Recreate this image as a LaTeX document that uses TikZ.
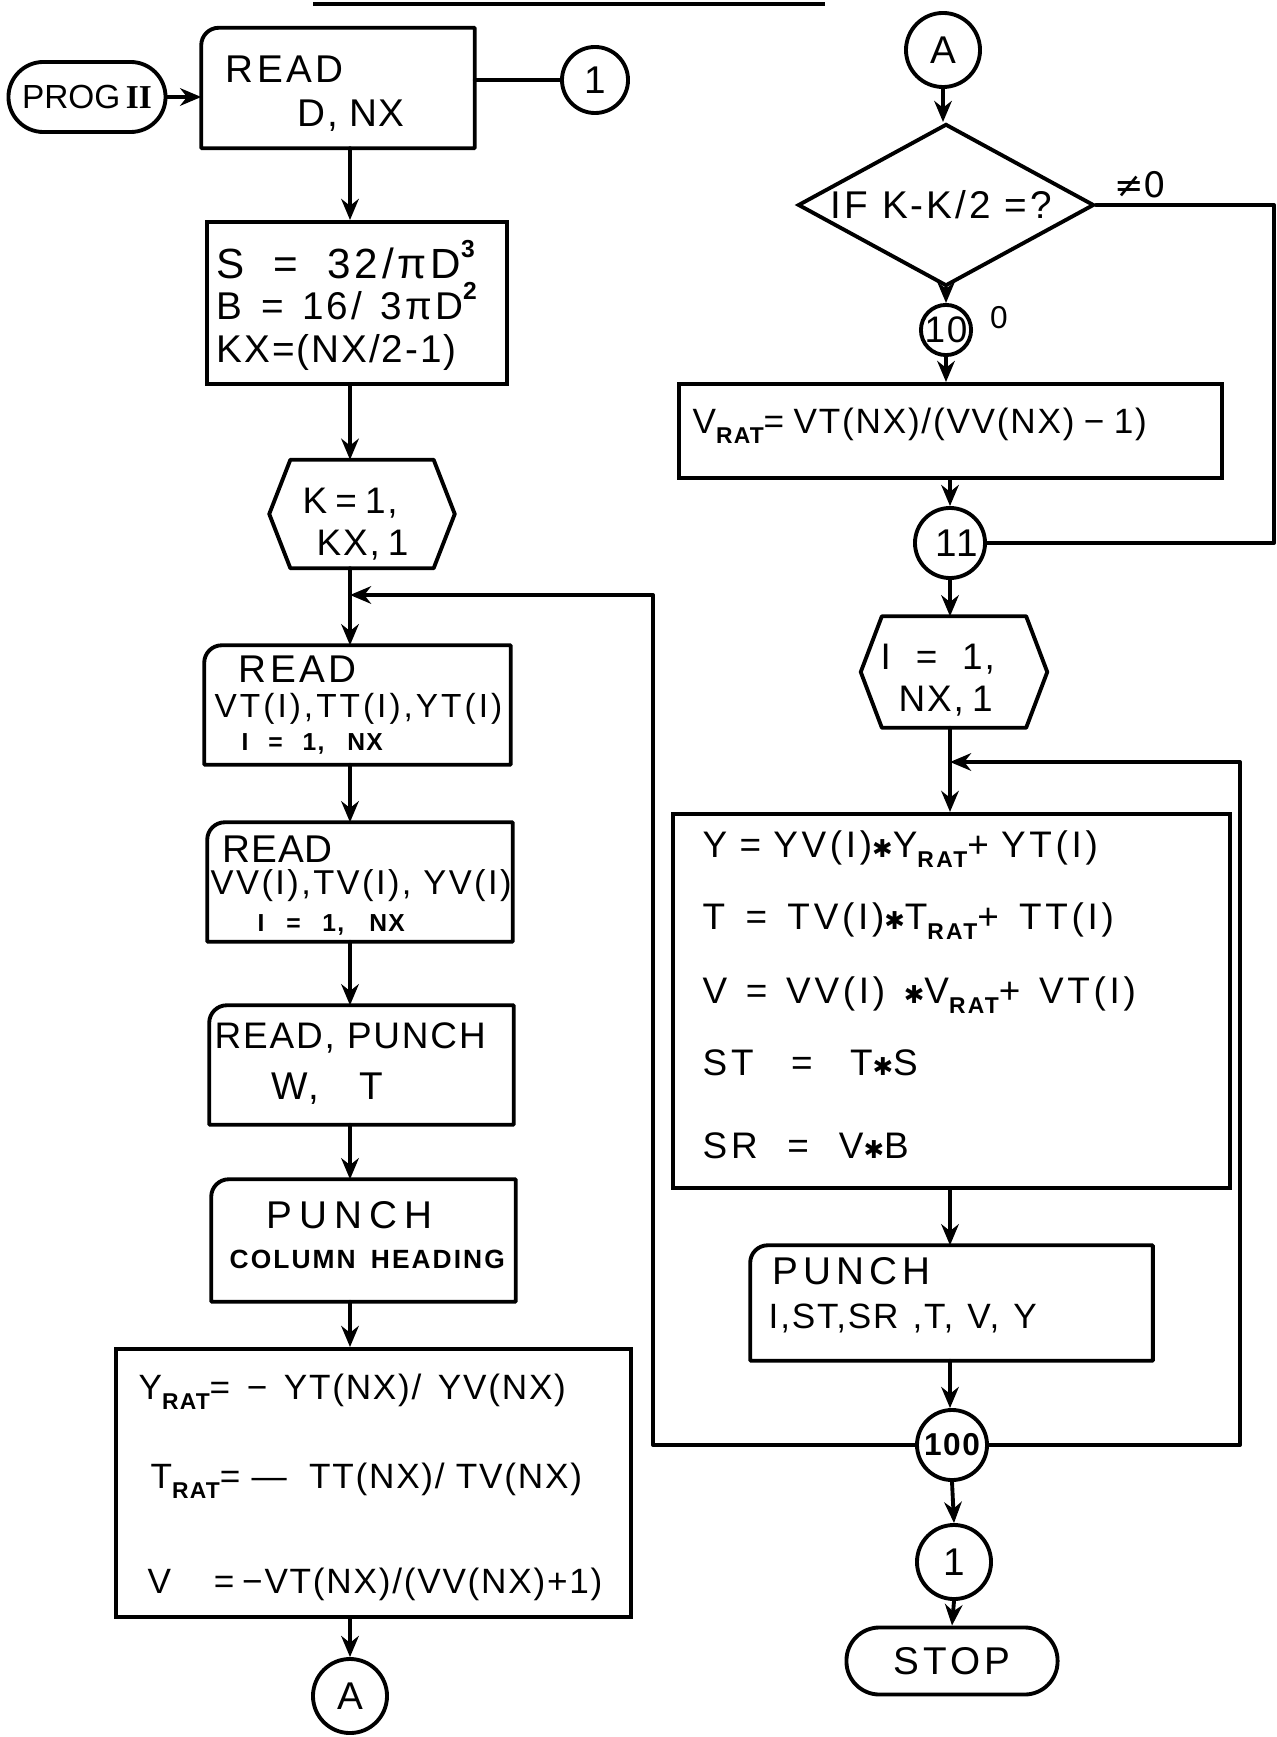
\documentclass[tikz,border=0pt]{standalone}
\usepackage{fontspec}
\setmainfont{Liberation Sans}[LetterSpace=5]
\newfontfamily\dejavu{DejaVu Sans}
\newfontfamily\serifrm{Liberation Serif}
\usetikzlibrary{arrows.meta,shapes.geometric}
\newcommand\ratsub{\raisebox{-0.55ex}{\fontsize{6.5}{7}\selectfont\bfseries RAT}}
\newcommand\mul{{\dejavu\fontsize{7}{7}\selectfont ✱}}
\newcommand\supr[1]{\raisebox{0.5em}{\fontsize{7}{7}\selectfont\bfseries #1}}
\newcommand\spr[2]{\makebox[#1][s]{#2}}
\newcommand\cardline[1]{\draw[ln] ([yshift=-5pt]#1.north west) arc[start angle=180,end angle=90,radius=5pt] -- (#1.north east) -- (#1.south east) -- (#1.south west) -- cycle;}
\newcommand\hexline[2]{\draw[ln] (#1.west) -- ([xshift=#2]#1.north west) -- ([xshift=-#2]#1.north east) -- (#1.east) -- ([xshift=-#2]#1.south east) -- ([xshift=#2]#1.south west) -- cycle;}
\begin{document}
\begin{tikzpicture}[x=0.01cm,y=-0.01cm,
 ln/.style={line width=1.1pt, line join=round, line cap=round},
 arr/.style={ln, -{Stealth[length=6pt,width=5pt]}},
 shp/.style={rectangle, inner sep=0pt, draw=none},
 bx/.style={rectangle, draw, line width=1.1pt, inner sep=0pt},
 cir/.style={circle, draw, line width=1.1pt, inner sep=0pt},
 term/.style={rectangle, draw, line width=1.1pt, inner sep=0pt},
 tx/.style={inner sep=0pt, anchor=west, font=\fontsize{10}{12}\selectfont},
 rt/.style={inner sep=0pt, anchor=west, font={\fontsize{10.5}{12}\selectfont\addfontfeature{LetterSpace=10}}},
 hd/.style={inner sep=0pt, anchor=west, font=\fontsize{11}{13}\selectfont},
 txc/.style={inner sep=0pt, font=\fontsize{11}{13}\selectfont},
 sm/.style={inner sep=0pt, anchor=west, font=\fontsize{7}{8}\selectfont\bfseries}]
\useasboundingbox (0,0) rectangle (1277,1737);
\fill[white] (0,0) rectangle (1277,1737);
% top rule
\coordinate (tl1) at (313,4); \coordinate (tl2) at (825,4);
\draw[line width=1.3pt] (tl1) -- (tl2);
% ---------------- left column
\node[term, minimum width=1.57cm, minimum height=0.70cm, rounded corners=0.35cm, font={\fontsize{9.5}{11}\selectfont\addfontfeature{LetterSpace=0}}] (prog) at (87,97) {PROG\,{\serifrm\bfseries II}};
\node[shp, minimum width=2.72cm, minimum height=1.19cm] (read1) at (338,88) {};
\cardline{read1}
\node[hd] (read1a) at (225,69) {\spr{1.18cm}{R\hfil E\hfil A\hfil D}};
\node[hd] (read1b) at (297,116) {\spr{1.07cm}{D, NX}};
\node[cir, txc, minimum size=0.66cm] (c1) at (595,80) {1};
\node[bx, minimum width=3.00cm, minimum height=1.62cm] (sbox) at (357,303) {};
\node[hd, font={\fontsize{12}{13}\selectfont\addfontfeature{LetterSpace=9}}] (s1) at (216,260) {\spr{2.58cm}{S = 32/πD\supr{3}}};
\node[hd, font={\fontsize{11}{13}\selectfont\addfontfeature{LetterSpace=8}}] (s2) at (216,301) {\spr{2.60cm}{B = 16/ 3πD\supr{2}}};
\node[hd] (s3) at (216,352) {KX=(NX/2-1)};
\node[shp, minimum width=1.84cm, minimum height=1.07cm] (hexK) at (362,514) {};
\hexline{hexK}{6pt}
\node[tx, font=\fontsize{10.5}{12}\selectfont] (k1) at (302,503) {\spr{0.83cm}{K = 1,}};
\node[tx, font=\fontsize{10.5}{12}\selectfont] (k2) at (316,545) {\spr{0.76cm}{KX, 1}};
\coordinate (J1) at (350,595);
\node[shp, minimum width=3.05cm, minimum height=1.18cm] (readvt) at (357.5,705) {};
\cardline{readvt}
\node[hd] (vt1) at (238,669) {\spr{1.18cm}{R\hfil E\hfil A\hfil D}};
\node[tx, font={\fontsize{9.5}{11}\selectfont\addfontfeature{LetterSpace=9}}] (vt2) at (214,709) {VT(I),TT(I),YT(I)};
\node[sm] (vt3) at (241,744) {\spr{1.41cm}{I = 1, NX}};
\node[shp, minimum width=3.04cm, minimum height=1.18cm] (readvv) at (360,882) {};
\cardline{readvv}
\node[hd] (vv1) at (222,849) {\spr{1.10cm}{R\hfil E\hfil A\hfil D}};
\node[tx, font={\fontsize{9.8}{11}\selectfont\addfontfeature{LetterSpace=7}}] (vv2) at (210,886) {VV(I),TV(I), YV(I)};
\node[sm] (vv3) at (257,925) {\spr{1.47cm}{I = 1, NX}};
\node[shp, minimum width=3.03cm, minimum height=1.18cm] (readpunch) at (361.5,1065) {};
\cardline{readpunch}
\node[tx, font=\fontsize{10.5}{12}\selectfont] (rp1) at (214,1038) {READ, PUNCH};
\node[hd] (rp2) at (271,1089) {\spr{1.11cm}{W, T}};
\node[shp, minimum width=3.03cm, minimum height=1.21cm] (punchcol) at (363.5,1240.5) {};
\cardline{punchcol}
\node[hd] (pc1) at (266,1215) {\spr{1.66cm}{P\hfil U\hfil N\hfil C\hfil H}};
\node[tx, font=\fontsize{7.5}{8}\selectfont\bfseries] (pc2) at (229,1259) {\spr{2.75cm}{C\hfil O\hfil L\hfil U\hfil M\hfil N\hskip 0.5em plus 1fil H\hfil E\hfil A\hfil D\hfil I\hfil N\hfil G}};
\node[bx, minimum width=5.15cm, minimum height=2.68cm] (bigL) at (373.5,1483) {};
\node[tx] (l1) at (138,1392) {\spr{4.27cm}{Y\ratsub= − YT(NX)/ YV(NX)}};
\node[tx] (l2) at (150,1481) {\spr{4.31cm}{T\ratsub= — \ TT(NX)/ TV(NX)}};
\node[tx] (l3) at (147,1584) {\spr{4.54cm}{V\hspace{1em} = −VT(NX)/(VV(NX)+1)}};
\node[cir, txc, minimum size=0.74cm] (cAb) at (350,1696) {A};
% ---------------- right column
\node[cir, txc, minimum size=0.74cm] (cAt) at (943,50) {A};
\node[diamond, draw, line width=1.1pt, minimum width=2.96cm, minimum height=1.62cm, inner sep=0pt] (dia) at (946,205) {};
\node[hd, font={\fontsize{11}{13}\selectfont\addfontfeature{LetterSpace=8}}] (diat) at (830,205) {IF K-K/2 =?};
\node[txc, font=\dejavu\fontsize{10}{12}\selectfont] (ne) at (1140,185) {≠0};
\node[txc, font=\fontsize{9}{10}\selectfont] (zr) at (999,318) {0};
\node[cir, txc, font=\fontsize{10.5}{12}\selectfont, minimum size=0.50cm] (c10) at (946,330) {10};
\node[bx, minimum width=5.43cm, minimum height=0.94cm] (vrat) at (950.5,431) {};
\node[tx] (vr1) at (692,426) {\spr{4.54cm}{V\ratsub= VT(NX)/(VV(NX) − 1)}};
\node[cir, txc, minimum size=0.70cm] (c11) at (950,543) {\spr{0.30cm}{1\hfil 1}};
\node[shp, minimum width=1.85cm, minimum height=1.10cm] (hexI) at (954,672) {};
\hexline{hexI}{6pt}
\node[tx, font=\fontsize{10.5}{12}\selectfont] (i1) at (880,659) {\spr{1.14cm}{I = 1,}};
\node[tx, font=\fontsize{10.5}{12}\selectfont] (i2) at (898,701) {\spr{0.94cm}{NX, 1}};
\coordinate (J2) at (950,762);
\node[bx, minimum width=5.57cm, minimum height=3.74cm] (bigR) at (951.5,1001) {};
\node[rt] (r1) at (702,849) {\spr{3.95cm}{Y = YV(I)\mul Y\ratsub+ YT(I)}};
\node[rt] (r2) at (702,921) {\spr{4.11cm}{T = TV(I)\mul T\ratsub + TT(I)}};
\node[rt] (r3) at (702,995) {\spr{4.33cm}{V = VV(I) \mul V\ratsub+ VT(I)}};
\node[rt] (r4) at (702,1063) {\spr{2.15cm}{ST = T\mul S}};
\node[rt] (r5) at (702,1146) {\spr{2.06cm}{SR = V\mul B}};
\node[shp, minimum width=4.01cm, minimum height=1.14cm] (punchR) at (951.5,1303) {};
\cardline{punchR}
\node[hd] (pr1) at (772,1271) {\spr{1.58cm}{P\hfil U\hfil N\hfil C\hfil H}};
\node[tx] (pr2) at (768,1318) {\spr{2.68cm}{I,ST,SR ,T, V, Y}};
\node[cir, txc, font=\fontsize{9}{10}\selectfont\bfseries, minimum size=0.70cm] (c100) at (952,1445) {100};
\node[cir, txc, minimum size=0.74cm] (c1b) at (954,1562) {1};
\node[term, minimum width=2.11cm, minimum height=0.67cm, rounded corners=0.33cm, font=\fontsize{11}{13}\selectfont] (stop) at (952,1661) {\spr{1.16cm}{S\hfil T\hfil O\hfil P}};
% ---------------- connectors
\draw[arr] (prog.east) -- (prog.east -| read1.west);
\draw[ln] (c1.west -| read1.east) -- (c1.west);
\draw[arr] (read1.south -| J1) -- (sbox.north -| J1);
\draw[arr] (sbox.south -| J1) -- (hexK.north -| J1);
\draw[ln] (hexK.south -| J1) -- (J1);
\draw[arr] (J1) -- (readvt.north -| J1);
\draw[arr] (readvt.south -| J1) -- (readvv.north -| J1);
\draw[arr] (readvv.south -| J1) -- (readpunch.north -| J1);
\draw[arr] (readpunch.south -| J1) -- (punchcol.north -| J1);
\draw[arr] (punchcol.south -| J1) -- (bigL.north -| J1);
\draw[arr] (bigL.south -| J1) -- (cAb.north);
\draw[arr] (cAt.south) -- (cAt.south |- dia.north);
\draw[arr] (dia.south) -- (c10.north);
\draw[arr] (c10.south) -- (vrat.north -| c10);
\draw[arr] (vrat.south -| c11) -- (c11.north);
\coordinate (RE) at (1274,0);
\draw[ln] (dia.east) -- (dia.east -| RE) -- (c11.east -| RE) -- (c11.east);
\draw[arr] (c11.south) -- (hexI.north -| c11);
\draw[ln] (hexI.south -| c11) -- (J2);
\draw[arr] (J2) -- (bigR.north -| J2);
\draw[arr] (bigR.south -| J2) -- (punchR.north -| J2);
\draw[arr] (punchR.south -| J2) -- (c100.north -| J2);
\draw[arr] (c100.south) -- (c1b.north);
\draw[arr] (c1b.south) -- (stop.north);
\coordinate (LL) at (653,0);
\coordinate (RL) at (1240,0);
\draw[arr] (c100.west) -- (c100.west -| LL) -- (J1 -| LL) -- (J1);
\draw[arr] (c100.east) -- (c100.east -| RL) -- (J2 -| RL) -- (J2);
\end{tikzpicture}
\end{document}
